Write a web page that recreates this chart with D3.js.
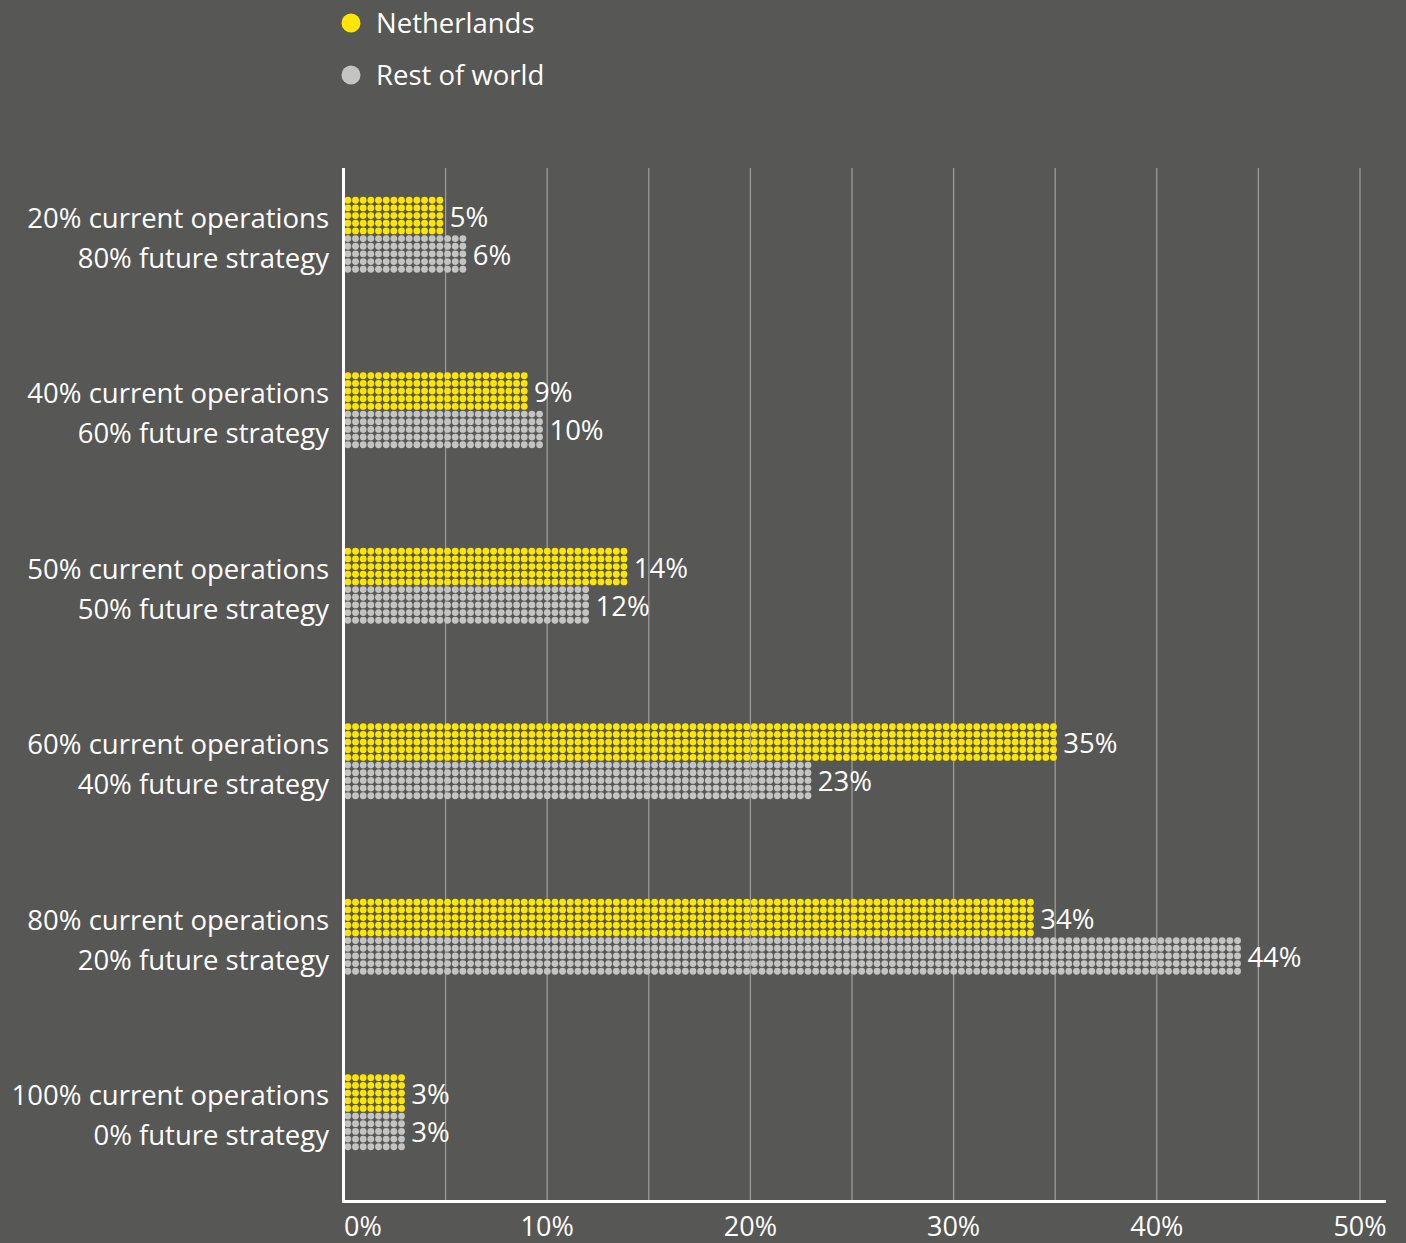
<!DOCTYPE html>
<html>
<head>
<meta charset="utf-8">
<script src="https://cdn.jsdelivr.net/npm/d3@7"></script>
<style>
  html, body { margin: 0; padding: 0; background: #575755; }
  svg { display: block; }
  text { font-family: "Open Sans", "Noto Sans", sans-serif; fill: #ffffff; }
</style>
</head>
<body>
<svg id="chart" width="1406" height="1243"></svg>
<script>
// Split between current operations and future strategy (two label lines per row)
const categoriesLine1 = [
  "20% current operations",
  "40% current operations",
  "50% current operations",
  "60% current operations",
  "80% current operations",
  "100% current operations"
];
const categoriesLine2 = [
  "80% future strategy",
  "60% future strategy",
  "50% future strategy",
  "40% future strategy",
  "20% future strategy",
  "0% future strategy"
];
const seriesNames = ["Netherlands", "Rest of world"];
const netherlands = [5, 9, 14, 35, 34, 3];
const restOfWorld = [6, 10, 12, 23, 44, 3];
const xTicks = [0, 10, 20, 30, 40, 50];
const gridTicks = [5, 10, 15, 20, 25, 30, 35, 40, 45, 50];

const colors = ["#ffe600", "#c4c4c4"];

const svg = d3.select("#chart");
const fs = 27.5;

const x = d3.scaleLinear().domain([0, 50]).range([344, 1360]);
const y = d3.scaleBand().domain(d3.range(categoriesLine1.length)).range([147, 1200]).padding(0);

const step = 7.67;     // dot pitch
const rows = 5;        // dot rows per bar
const dotR = 3.4;
const barH = rows * step;

// grid lines
svg.append("g").selectAll("line").data(gridTicks).join("line")
  .attr("x1", d => x(d)).attr("x2", d => x(d))
  .attr("y1", 168).attr("y2", 1200)
  .attr("stroke", "#9c9c9a").attr("stroke-width", 1.3);

// dotted bars
const series = [netherlands, restOfWorld];
const groups = svg.append("g");
categoriesLine1.forEach((c, i) => {
  const cy = y(i) + y.bandwidth() / 2;
  series.forEach((vals, s) => {
    const v = vals[i];
    const top = cy - barH + s * barH;
    const cols = Math.round((x(v) - x(0)) / step);
    const pts = [];
    for (let col = 0; col < cols; col++) {
      for (let r = 0; r < rows; r++) {
        pts.push([x(0) + step / 2 + col * step, top + step / 2 + r * step]);
      }
    }
    groups.append("g").selectAll("circle").data(pts).join("circle")
      .attr("cx", d => d[0]).attr("cy", d => d[1]).attr("r", dotR)
      .attr("fill", colors[s]);
    groups.append("text")
      .attr("x", x(0) + cols * step + 6)
      .attr("y", top + barH / 2 + 11)
      .attr("font-size", fs)
      .text(v + "%");
  });
  // category labels
  svg.append("text").attr("x", 329).attr("y", cy - 7)
    .attr("text-anchor", "end").attr("font-size", fs).text(c);
  svg.append("text").attr("x", 329).attr("y", cy + 33)
    .attr("text-anchor", "end").attr("font-size", fs).text(categoriesLine2[i]);
});

// axes
svg.append("line").attr("x1", 343.5).attr("x2", 343.5).attr("y1", 168).attr("y2", 1203)
  .attr("stroke", "#ffffff").attr("stroke-width", 3);
svg.append("line").attr("x1", 342).attr("x2", 1386).attr("y1", 1201.5).attr("y2", 1201.5)
  .attr("stroke", "#ffffff").attr("stroke-width", 3);

svg.append("g").selectAll("text").data(xTicks).join("text")
  .attr("x", d => x(d))
  .attr("y", 1236)
  .attr("text-anchor", (d, i) => i === 0 ? "start" : "middle")
  .attr("font-size", 27)
  .text(d => d + "%");

// legend
const legend = svg.append("g");
seriesNames.forEach((n, i) => {
  const ly = 23 + i * 52;
  legend.append("circle").attr("cx", 351).attr("cy", ly).attr("r", 9.5).attr("fill", colors[i]);
  legend.append("text").attr("x", 376).attr("y", ly + 10).attr("font-size", fs).text(n);
});
</script>
</body>
</html>
